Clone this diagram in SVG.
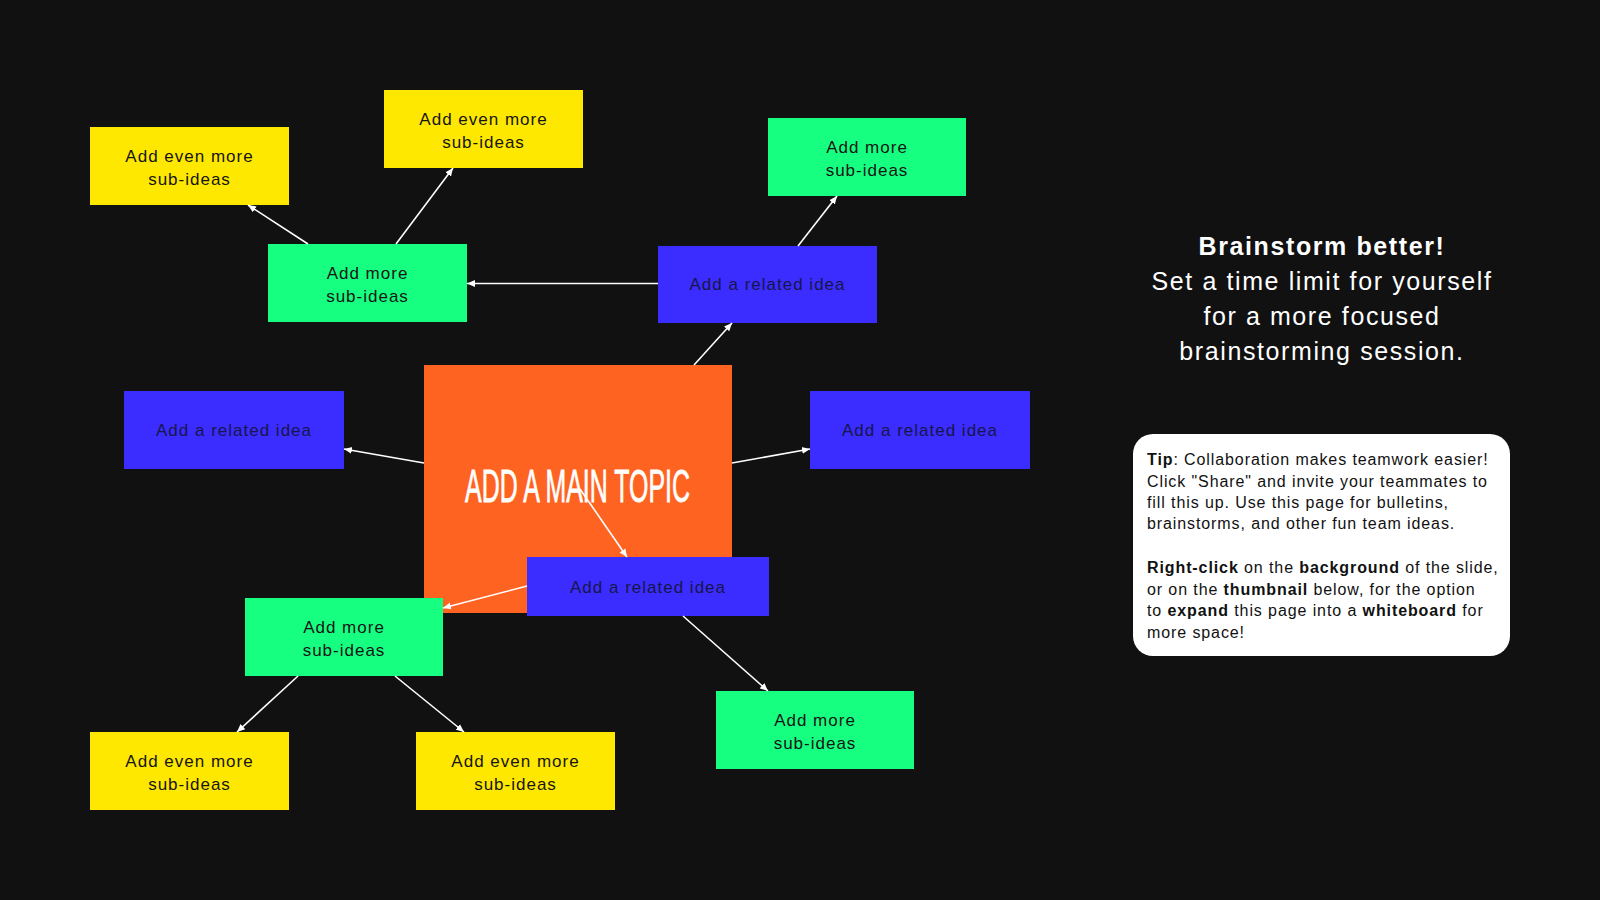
<svg xmlns="http://www.w3.org/2000/svg" width="1600" height="900" viewBox="0 0 1600 900">
<defs>
<marker id="ah" markerUnits="userSpaceOnUse" markerWidth="9" markerHeight="8" refX="8" refY="4" orient="auto">
<path d="M0,0.5 L8,4 L0,7.5 z" fill="#ffffff"/>
</marker>
<style>
.bg{fill:#111111}
.yellow{fill:#FFE800}
.green{fill:#17FF80}
.blue{fill:#3B2CFF}
.orange{fill:#FF6321}
.t{font-family:"Liberation Sans",Arial,sans-serif;font-size:17px;letter-spacing:1px;fill:#151515;text-anchor:middle}
.tb{fill:#17164a}
.conn line{stroke:#ffffff;stroke-width:1.6;marker-end:url(#ah)}
.main{font-family:"Liberation Sans",Arial,sans-serif;font-size:47px;fill:#ffffff}
.side{font-family:"Liberation Sans",Arial,sans-serif;font-size:25px;letter-spacing:1.6px;fill:#ffffff;text-anchor:middle}
.tip{font-family:"Liberation Sans",Arial,sans-serif;font-size:16px;letter-spacing:0.9px;fill:#111111}
</style>
</defs>
<rect class="bg" x="0" y="0" width="1600" height="900"/>

<g id="node-main">
<rect class="orange" x="424" y="365" width="308" height="248"/>
<text class="main" x="465" y="502" textLength="225" lengthAdjust="spacingAndGlyphs" stroke="#ffffff" stroke-width="0.8">ADD A MAIN TOPIC</text>
</g>

<g id="node-y1">
<rect class="yellow" x="90" y="127" width="199" height="78"/>
<text class="t" x="189.5" y="161.5">Add even more</text>
<text class="t" x="189.5" y="184.5">sub-ideas</text>
</g>
<g id="node-y2">
<rect class="yellow" x="384" y="90" width="199" height="78"/>
<text class="t" x="483.5" y="124.5">Add even more</text>
<text class="t" x="483.5" y="147.5">sub-ideas</text>
</g>
<g id="node-g1">
<rect class="green" x="268" y="244" width="199" height="78"/>
<text class="t" x="367.5" y="278.5">Add more</text>
<text class="t" x="367.5" y="301.5">sub-ideas</text>
</g>
<g id="node-g2">
<rect class="green" x="768" y="118" width="198" height="78"/>
<text class="t" x="867" y="152.5">Add more</text>
<text class="t" x="867" y="175.5">sub-ideas</text>
</g>
<g id="node-b1">
<rect class="blue" x="658" y="246" width="219" height="77"/>
<text class="t tb" x="767.5" y="290">Add a related idea</text>
</g>
<g id="node-b2">
<rect class="blue" x="124" y="391" width="220" height="78"/>
<text class="t tb" x="234" y="436">Add a related idea</text>
</g>
<g id="node-b3">
<rect class="blue" x="810" y="391" width="220" height="78"/>
<text class="t tb" x="920" y="436">Add a related idea</text>
</g>
<g id="node-b4">
<rect class="blue" x="527" y="557" width="242" height="59"/>
<text class="t tb" x="648" y="592.5">Add a related idea</text>
</g>
<g id="node-g3">
<rect class="green" x="245" y="598" width="198" height="78"/>
<text class="t" x="344" y="632.5">Add more</text>
<text class="t" x="344" y="655.5">sub-ideas</text>
</g>
<g id="node-y3">
<rect class="yellow" x="90" y="732" width="199" height="78"/>
<text class="t" x="189.5" y="766.5">Add even more</text>
<text class="t" x="189.5" y="789.5">sub-ideas</text>
</g>
<g id="node-y4">
<rect class="yellow" x="416" y="732" width="199" height="78"/>
<text class="t" x="515.5" y="766.5">Add even more</text>
<text class="t" x="515.5" y="789.5">sub-ideas</text>
</g>
<g id="node-g4">
<rect class="green" x="716" y="691" width="198" height="78"/>
<text class="t" x="815" y="725.5">Add more</text>
<text class="t" x="815" y="748.5">sub-ideas</text>
</g>

<g id="connectors" class="conn">
<line x1="308" y1="244" x2="248" y2="205"/>
<line x1="396" y1="244" x2="453" y2="168"/>
<line x1="658" y1="283.5" x2="467" y2="283.5"/>
<line x1="798" y1="246" x2="837" y2="196"/>
<line x1="694" y1="365" x2="732" y2="323"/>
<line x1="424" y1="463" x2="344" y2="449"/>
<line x1="732" y1="463" x2="810" y2="449"/>
<line x1="580" y1="489" x2="627" y2="557"/>
<line x1="527" y1="586" x2="443" y2="608"/>
<line x1="298" y1="676" x2="237" y2="732"/>
<line x1="395" y1="676" x2="464" y2="732"/>
<line x1="683" y1="616" x2="768" y2="691"/>
</g>

<g id="heading">
<text class="side" x="1322" y="255" font-weight="bold">Brainstorm better!</text>
<text class="side" x="1322" y="290">Set a time limit for yourself</text>
<text class="side" x="1322" y="325">for a more focused</text>
<text class="side" x="1322" y="360">brainstorming session.</text>
</g>

<g id="tip">
<rect x="1133" y="434" width="377" height="222" rx="20" ry="20" fill="#ffffff"/>
<text class="tip" x="1147" y="465"><tspan font-weight="bold">Tip</tspan>: Collaboration makes teamwork easier!</text>
<text class="tip" x="1147" y="486.5">Click "Share" and invite your teammates to</text>
<text class="tip" x="1147" y="508">fill this up. Use this page for bulletins,</text>
<text class="tip" x="1147" y="529">brainstorms, and other fun team ideas.</text>
<text class="tip" x="1147" y="573"><tspan font-weight="bold">Right-click</tspan> on the <tspan font-weight="bold">background</tspan> of the slide,</text>
<text class="tip" x="1147" y="594.5">or on the <tspan font-weight="bold">thumbnail</tspan> below, for the option</text>
<text class="tip" x="1147" y="616">to <tspan font-weight="bold">expand</tspan> this page into a <tspan font-weight="bold">whiteboard</tspan> for</text>
<text class="tip" x="1147" y="637.5">more space!</text>
</g>
</svg>
